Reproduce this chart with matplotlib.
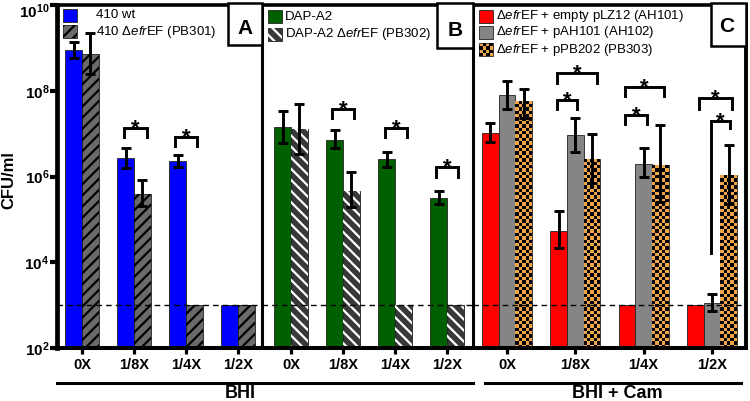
import numpy as np
import matplotlib
matplotlib.use('Agg')
import matplotlib.pyplot as plt
import matplotlib.transforms as mtransforms
from matplotlib.patches import Rectangle
from matplotlib.lines import Line2D
from matplotlib.colors import ListedColormap

plt.rcParams['font.family'] = ['Liberation Sans', 'DejaVu Sans']
plt.rcParams['mathtext.fontset'] = 'custom'
plt.rcParams['mathtext.rm'] = 'Liberation Sans'
plt.rcParams['mathtext.it'] = 'Liberation Sans:italic'
plt.rcParams['mathtext.bf'] = 'Liberation Sans:bold'
plt.rcParams['hatch.linewidth'] = 1.6

# données (CFU/ml), moyenne + extrémités des barres d'erreur
conc = ['0X', '1/8X', '1/4X', '1/2X']
limite = 1e3

wt410 = [8.9e8, 2.75e6, 2.3e6, 1e3]
wt410_lo = [5.9e8, 1.6e6, 1.7e6, 1e3]
wt410_hi = [1.4e9, 4.7e6, 3.2e6, 1e3]
pb301 = [7.2e8, 4.0e5, 1e3, 1e3]
pb301_lo = [2.5e8, 2.1e5, 1e3, 1e3]
pb301_hi = [2.2e9, 8.1e5, 1e3, 1e3]

dap = [1.4e7, 7.2e6, 2.5e6, 3.2e5]
dap_lo = [5.9e6, 4.5e6, 1.7e6, 2.3e5]
dap_hi = [3.4e7, 1.2e7, 3.8e6, 4.5e5]
pb302 = [1.3e7, 4.7e5, 1e3, 1e3]
pb302_lo = [3.4e6, 1.9e5, 1e3, 1e3]
pb302_hi = [5.0e7, 1.3e6, 1e3, 1e3]

ah101 = [1.05e7, 5.5e4, 1e3, 1e3]
ah101_lo = [6.5e6, 2.1e4, 1e3, 1e3]
ah101_hi = [1.8e7, 1.55e5, 1e3, 1e3]
ah102 = [8.1e7, 9.5e6, 2.0e6, 1.1e3]
ah102_lo = [3.8e7, 3.8e6, 9.5e5, 7.2e2]
ah102_hi = [1.7e8, 2.3e7, 4.5e6, 1.8e3]
pb303 = [5.9e7, 2.6e6, 1.9e6, 1.1e6]
pb303_lo = [2.3e7, 7.2e5, 2.5e5, 2.3e5]
pb303_hi = [1.1e8, 1.0e7, 1.6e7, 5.5e6]

W, H = 750, 401
fig = plt.figure(figsize=(7.5, 4.01), dpi=100)

styles = {
    'blue': dict(face='#0000ff'),
    'pb301': dict(face='#6a6a6a', hatch='///', hc='black'),
    'green': dict(face='#006000'),
    'pb302': dict(face='#383838', hatch='\\\\\\', hc='white'),
    'red': dict(face='#ff0000'),
    'gray': dict(face='#858585'),
    'orange': dict(face='#f0a448', checker=True),
}
cmap_chk = ListedColormap(['#f0a448', '#000000'])


def make_ax(x0, x1, xlim):
    ax = fig.add_axes([x0 / W, 1 - 348 / H, (x1 - x0) / W, 343 / H])
    ax.patch.set_visible(False)
    ax.set_yscale('log')
    ax.set_ylim(1e2, 1e10)
    ax.set_xlim(*xlim)
    ax.yaxis.set_minor_locator(matplotlib.ticker.NullLocator())
    ax.set_xticks(range(4))
    ax.set_xticklabels(conc, fontsize=10.5, fontweight='bold')
    ax.tick_params(axis='x', direction='out', length=4, width=2.3, pad=3.5)
    ax.axhline(limite, color='k', lw=1, ls=(0, (4, 3)), zorder=6)
    return ax


def draw_bars(ax, series, width, offsets):
    for (vals, lo, hi, st), off in zip(series, offsets):
        s = styles[st]
        x = np.arange(4) + off
        v = np.array(vals)
        bars = ax.bar(x, v - 1e2, bottom=1e2, width=width, color=s['face'],
                      edgecolor='#222222', lw=0.6, zorder=2)
        if 'hatch' in s:
            ax.bar(x, v - 1e2, bottom=1e2, width=width, color='none',
                   edgecolor=s['hc'], hatch=s['hatch'], lw=0, zorder=2.2)
        if s.get('checker'):
            step = 3.4 / 43
            for b in bars:
                top = b.get_y() + b.get_height()
                ye = 10 ** np.arange(2, np.log10(top) + step, step)
                xe = np.linspace(b.get_x(), b.get_x() + b.get_width(), 6)
                cc = (np.add.outer(np.arange(len(ye) - 1), np.arange(5)) % 2)
                m = ax.pcolormesh(xe, ye, cc, cmap=cmap_chk, shading='flat', zorder=2.1)
                m.set_clip_path(b)
        lo = np.array(lo)
        hi = np.array(hi)
        ok = hi > v
        ax.errorbar(x[ok], v[ok], yerr=[v[ok] - lo[ok], hi[ok] - v[ok]], fmt='none',
                    ecolor='k', elinewidth=2.1, capsize=3.3, capthick=2.1, zorder=5)


def bracket(ax, g, dl, dr, top, leg_l, leg_r):
    xl, xr = g + dl, g + dr
    ax.plot([xl, xl, xr, xr], [10 ** leg_l, 10 ** top, 10 ** top, 10 ** leg_r],
            color='k', lw=2.1, solid_joinstyle='miter', zorder=5, clip_on=False)
    ax.annotate('*', xy=((xl + xr) / 2, 10 ** top), xytext=(0, -4.8),
                textcoords='offset points', ha='center', va='baseline',
                fontsize=16, fontweight='bold', zorder=6)


def panel_box(x0, x1, yb, letter, lx, ly):
    fig.add_artist(Rectangle((x0 / W, 1 - yb / H), (x1 - x0) / W, (yb - 3) / H,
                             transform=fig.transFigure, facecolor='white',
                             edgecolor='k', lw=1.8, zorder=7))
    fig.text(lx / W, 1 - ly / H, letter, ha='center', va='center',
             fontsize=15, fontweight='bold', zorder=8)


axA = make_ax(57, 262, (-0.48, 3.46))
axB = make_ax(262, 473, (-0.56, 3.5))
axC = make_ax(473, 746, (-0.5, 3.5))

wa = 0.32
draw_bars(axA, [(wt410, wt410_lo, wt410_hi, 'blue'), (pb301, pb301_lo, pb301_hi, 'pb301')],
          wa, [-wa / 2, wa / 2])
draw_bars(axB, [(dap, dap_lo, dap_hi, 'green'), (pb302, pb302_lo, pb302_hi, 'pb302')],
          wa, [-wa / 2, wa / 2])
wc = 0.245
draw_bars(axC, [(ah101, ah101_lo, ah101_hi, 'red'), (ah102, ah102_lo, ah102_hi, 'gray'),
                (pb303, pb303_lo, pb303_hi, 'orange')], wc, [-wc, 0, wc])

# crochets de significativité
bracket(axA, 1, -0.19, 0.25, 7.12, 6.91, 6.91)
bracket(axA, 2, -0.21, 0.21, 6.93, 6.72, 6.72)
bracket(axB, 1, -0.21, 0.21, 7.58, 7.37, 7.37)
bracket(axB, 2, -0.19, 0.23, 7.12, 6.91, 6.91)
bracket(axB, 3, -0.21, 0.21, 6.21, 6.00, 6.00)
bracket(axC, 1, -0.268, 0.318, 8.42, 8.19, 8.19)
bracket(axC, 1, -0.268, 0.025, 7.79, 7.58, 7.58)
bracket(axC, 2, -0.272, 0.299, 8.09, 7.88, 7.88)
bracket(axC, 2, -0.272, 0.05, 7.44, 7.23, 7.23)
bracket(axC, 3, -0.189, 0.294, 7.84, 7.58, 7.58)
bracket(axC, 3, -0.013, 0.265, 7.30, 4.21, 7.12)

# axes / cadres
for ax in (axA, axB, axC):
    ax.spines['top'].set_linewidth(2.6)
    ax.spines['bottom'].set_linewidth(2.9)
    ax.spines['right'].set_linewidth(2.2)
    ax.spines['left'].set_linewidth(2.2)
    for sp in ax.spines.values():
        sp.set_zorder(9)
axA.spines['left'].set_linewidth(3.4)
axB.spines['left'].set_visible(False)
axC.spines['left'].set_visible(False)
axC.spines['right'].set_linewidth(2.8)

axA.set_yticks([1e2, 1e4, 1e6, 1e8, 1e10])
axA.set_yticklabels([r'$\mathbf{10^{%d}}$' % e for e in (2, 4, 6, 8, 10)], fontsize=11)
axA.tick_params(axis='y', direction='out', length=5, width=3, pad=0.5)
# la graduation du haut est décalée vers le bas pour rester visible
top_lab = axA.get_yticklabels()[-1]
top_lab.set_transform(top_lab.get_transform() +
                      mtransforms.ScaledTranslation(0, -5 / 100, fig.dpi_scale_trans))
for ax in (axB, axC):
    ax.tick_params(axis='y', left=False, labelleft=False)

fig.text(9 / W, 1 - 180 / H, 'CFU/ml', rotation=90, ha='center', va='center',
         fontsize=12, fontweight='bold')

# boîtes des lettres
panel_box(228, 262, 45, 'A', 245, 28)
panel_box(437, 473, 48, 'B', 455, 30)
panel_box(711, 746, 46, 'C', 727, 26)


# légendes
def swatch(x, y, st, w=14, h=13):
    s = styles[st]
    fig.add_artist(Rectangle((x / W, 1 - (y + h) / H), w / W, h / H,
                             transform=fig.transFigure, facecolor=s['face'],
                             edgecolor='#222222', lw=0.6))
    if 'hatch' in s:
        fig.add_artist(Rectangle((x / W, 1 - (y + h) / H), w / W, h / H,
                                 transform=fig.transFigure, facecolor='none',
                                 edgecolor=s['hc'], hatch=s['hatch'], lw=0))
    if s.get('checker'):
        n = 4
        cw, ch = w / n, h / n
        for i in range(n):
            for j in range(n):
                if (i + j) % 2:
                    fig.add_artist(Rectangle(((x + i * cw) / W, 1 - (y + (j + 1) * ch) / H),
                                             cw / W, ch / H, transform=fig.transFigure,
                                             facecolor='black', lw=0))


def legend_rows(xs, xt, rows):
    for y, st, lab in rows:
        swatch(xs, y, st)
        fig.text(xt / W, 1 - (y + 6.5) / H, lab, ha='left', va='center', fontsize=9.5)


legend_rows(63, 96, [(9, 'blue', '410 wt'),
                     (25, 'pb301', r'410 Δ$\mathit{efr}$EF (PB301)')])
legend_rows(268, 285, [(10, 'green', 'DAP-A2'),
                       (28, 'pb302', r'DAP-A2 Δ$\mathit{efr}$EF (PB302)')])
legend_rows(479, 496, [(10, 'red', r'Δ$\mathit{efr}$EF + empty pLZ12 (AH101)'),
                       (26, 'gray', r'Δ$\mathit{efr}$EF + pAH101 (AH102)'),
                       (43, 'orange', r'Δ$\mathit{efr}$EF + pPB202 (PB303)')])

# groupes de milieu
fig.add_artist(Line2D([57 / W, 473 / W], [1 - 383 / H] * 2, color='k', lw=2.2))
fig.add_artist(Line2D([485 / W, 741 / W], [1 - 383 / H] * 2, color='k', lw=2.2))
fig.text(240 / W, 1 - 394 / H, 'BHI', ha='center', va='center', fontsize=13, fontweight='bold')
fig.text(617 / W, 1 - 394 / H, 'BHI + Cam', ha='center', va='center', fontsize=13,
         fontweight='bold')

fig.savefig('out.png', dpi=100)
